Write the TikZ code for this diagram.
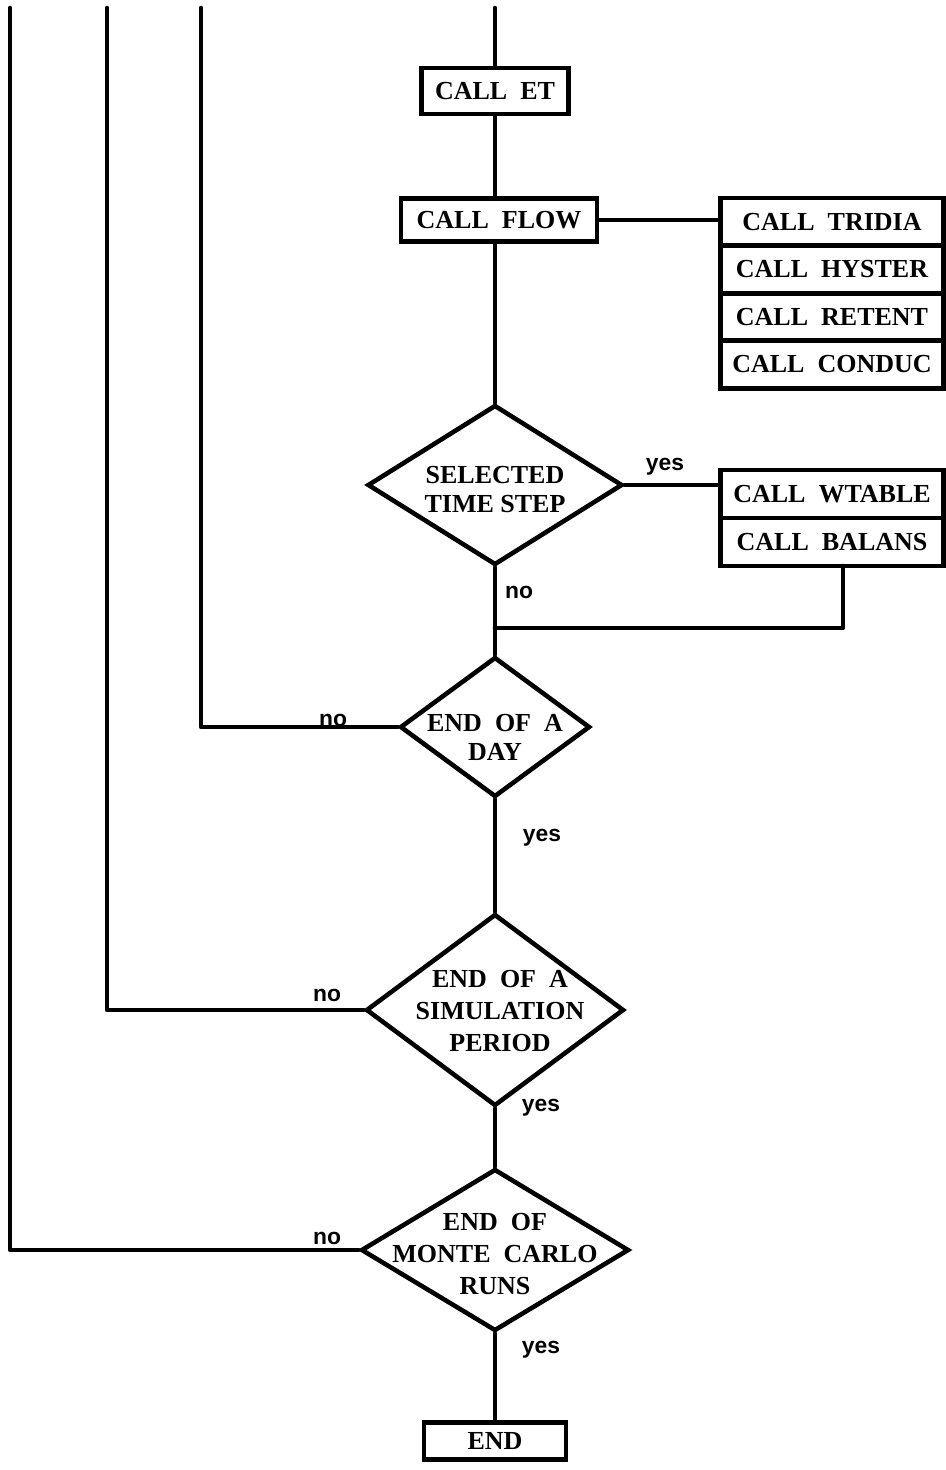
\documentclass[tikz,border=0pt]{standalone}
\usepackage{fontspec}
\setmainfont{Liberation Serif}
\newfontfamily\lblfont{Liberation Sans}
\usetikzlibrary{shapes.geometric}
\tikzset{
  conn/.style={line width=2.6pt, line cap=round, line join=round},
  boxnode/.style={draw, line width=2.4pt, rectangle, inner sep=0pt, font=\fontsize{14.8}{16}\selectfont\bfseries},
  stacknode/.style={boxnode, minimum width=4.46cm, minimum height=0.96cm},
  dia/.style={draw, line width=2.6pt, diamond, inner sep=0pt},
  diatext/.style={align=center, inner sep=0pt, font=\fontsize{14.8}{16.5}\selectfont\bfseries},
  diatextwide/.style={diatext, font=\fontsize{14.8}{18}\selectfont\bfseries},
  yn/.style={inner sep=0pt, font=\lblfont\fontsize{13}{14}\selectfont\bfseries}
}
\begin{document}
\begin{tikzpicture}[x=0.02cm, y=-0.02cm]
\useasboundingbox (0,0) rectangle (946,1470);
% boxes
\node[boxnode, minimum width=2.94cm, minimum height=0.92cm] (et) at (495,91) {CALL\ \ ET};
\node[boxnode, minimum width=3.92cm, minimum height=0.86cm] (flow) at (499,220) {CALL\ \ FLOW};
\node[stacknode] (tridia) at (832,222) {CALL\ \ TRIDIA};
\node[stacknode] (hyster) at (832,269.5) {CALL\ \ HYSTER};
\node[stacknode] (retent) at (832,317) {CALL\ \ RETENT};
\node[stacknode] (conduc) at (832,364.5) {CALL\ \ CONDUC};
\node[dia, minimum width=5.1cm, minimum height=3.2cm] (sel) at (495,485) {};
\node[diatext] (seltxt) at (495,490) {SELECTED\\TIME STEP};
\node[stacknode] (wtable) at (832,494) {CALL\ \ WTABLE};
\node[stacknode] (balans) at (832,542) {CALL\ \ BALANS};
\node[dia, minimum width=3.8cm, minimum height=2.8cm] (day) at (495,727) {};
\node[diatext] (daytxt) at (495,737) {END\ \ OF\ \ A\\DAY};
\node[dia, minimum width=5.16cm, minimum height=3.84cm] (sim) at (495,1010) {};
\node[diatextwide] (simtxt) at (500,1011) {END\ \ OF\ \ A\\SIMULATION\\PERIOD};
\node[dia, minimum width=5.36cm, minimum height=3.24cm] (mc) at (495,1250) {};
\node[diatextwide] (mctxt) at (495,1254) {END\ \ OF\\MONTE\ \ CARLO\\RUNS};
\node[boxnode, minimum width=2.84cm, minimum height=0.74cm] (end) at (495,1441) {END};
% top ends of loops
\coordinate (top0) at (495,8);
\coordinate (top1) at (10,8);
\coordinate (top2) at (107,8);
\coordinate (top3) at (201,8);
\coordinate (join) at (495,628);
\coordinate (balx) at (843,566);
% connectors
\draw[conn] (top0) -- (et.north);
\draw[conn] (et.south) -- (et.south |- flow.north);
\draw[conn] (flow.east) -- (flow.east -| tridia.west);
\draw[conn] (et.south |- flow.south) -- (sel.north);
\draw[conn] (sel.east) -- (sel.east -| wtable.west);
\draw[conn] (balx) |- (join);
\draw[conn] (sel.south) -- (day.north);
\draw[conn] (day.west) -| (top3);
\draw[conn] (day.south) -- (sim.north);
\draw[conn] (sim.west) -| (top2);
\draw[conn] (sim.south) -- (mc.north);
\draw[conn] (mc.west) -| (top1);
\draw[conn] (mc.south) -- (end.north);
% labels
\node[yn] (l1) at (665,467) {yes};
\node[yn] (l2) at (519,592) {no};
\node[yn] (l3) at (333,720) {no};
\node[yn] (l4) at (542,838) {yes};
\node[yn] (l5) at (327,995) {no};
\node[yn] (l6) at (541,1108) {yes};
\node[yn] (l7) at (327,1238) {no};
\node[yn] (l8) at (541,1350) {yes};
\end{tikzpicture}
\end{document}
